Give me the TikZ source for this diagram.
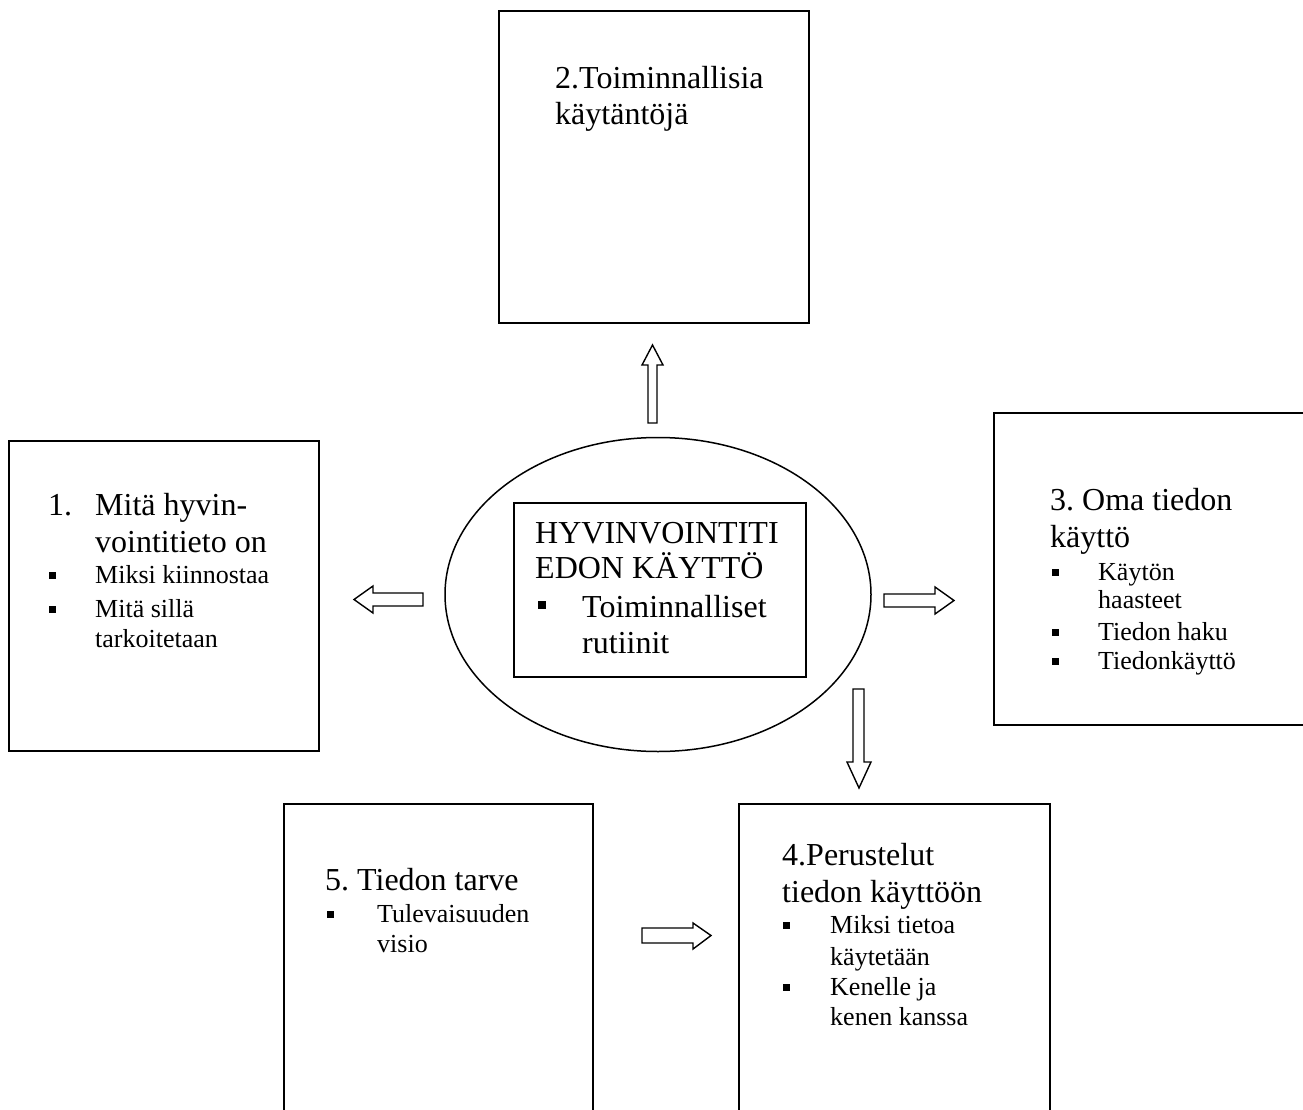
\documentclass[tikz,border=0pt]{standalone}
\usepackage{fontspec}
\setmainfont{Liberation Serif}
\usetikzlibrary{shapes.geometric}
\tikzset{
  box/.style={draw, line width=2pt, inner sep=0, anchor=north west},
  big/.style={font=\fontsize{32}{37}\selectfont\frenchspacing, anchor=base west, inner sep=0},
  small/.style={font=\fontsize{26}{30}\selectfont\frenchspacing, anchor=base west, inner sep=0},
  bul/.style={fill, inner sep=0, minimum size=7.5pt},
  bigbul/.style={fill, inner sep=0, minimum size=8pt},
  blk/.style={draw, line width=1.4pt, fill=white, line join=miter},
}
\begin{document}
\frenchspacing
\begin{tikzpicture}[x=1pt, y=-1pt]
\useasboundingbox (0,0) rectangle (1303,1110);
\clip (0,0) rectangle (1303,1110);
\fill[white] (0,0) rectangle (1303,1110);

% boxes
\node[box, minimum width=310pt, minimum height=312pt] (b2) at (498,10) {};
\node[box, minimum width=310pt, minimum height=310pt] (b1) at (8,440) {};
\node[box, minimum width=340pt, minimum height=312pt] (b3) at (993,412) {};
\node[box, minimum width=309pt, minimum height=330pt] (b5) at (283,803) {};
\node[box, minimum width=311pt, minimum height=330pt] (b4) at (738,803) {};

% centre
\node[draw, ellipse, line width=1.5pt, minimum width=426pt, minimum height=314pt, inner sep=0] (ell) at (658,594.5) {};
\node[draw, line width=1.5pt, minimum width=292pt, minimum height=174pt, inner sep=0] (core) at (660,590) {};

% block arrows
\draw[blk] (648,423) -- (648,365) -- (642,365) -- (652.5,345) -- (663,365) -- (657,365) -- (657,423) -- cycle;
\draw[blk] (423,593) -- (373,593) -- (373,586) -- (354,599.5) -- (373,613) -- (373,606) -- (423,606) -- cycle;
\draw[blk] (884,594) -- (935,594) -- (935,587) -- (954,600.5) -- (935,614) -- (935,607) -- (884,607) -- cycle;
\draw[blk] (853,689) -- (853,762) -- (847,762) -- (859,788) -- (871,762) -- (864,762) -- (864,689) -- cycle;
\draw[blk] (642,928) -- (693,928) -- (693,923) -- (711,935.5) -- (693,949) -- (693,943) -- (642,943) -- cycle;

% box 2 text
\node[big] (t2a) at (555,89) {2.Toiminnallisia};
\node[big] (t2b) at (555,125) {käytäntöjä};

% box 1 text
\node[big] (t1n) at (48,515) {1.};
\node[big] (t1a) at (95,515) {Mitä hyvin-};
\node[big] (t1b) at (95,552) {vointitieto on};
\node[bul] (t1u1) at (52.5,575.5) {};
\node[small] (t1c) at (95,583) {Miksi kiinnostaa};
\node[bul] (t1u2) at (52.5,609.5) {};
\node[small] (t1d) at (95,617) {Mitä sillä};
\node[small] (t1e) at (95,647) {tarkoitetaan};

% centre text
\node[big] (tca) at (535,543) {HYVINVOINTITI};
\node[big] (tcb) at (535,578) {EDON KÄYTTÖ};
\node[bigbul] (tcu) at (542,605) {};
\node[big] (tcc) at (582,617) {Toiminnalliset};
\node[big] (tcd) at (582,653) {rutiinit};

% box 3 text
\node[big] (t3a) at (1050,510) {3. Oma tiedon};
\node[big] (t3b) at (1050,547) {käyttö};
\node[bul] (t3u1) at (1055.5,572.5) {};
\node[small] (t3c) at (1098,580) {Käytön};
\node[small] (t3d) at (1098,608) {haasteet};
\node[bul] (t3u2) at (1055.5,632.5) {};
\node[small] (t3e) at (1098,640) {Tiedon haku};
\node[bul] (t3u3) at (1055.5,661.5) {};
\node[small] (t3f) at (1098,669) {Tiedonkäyttö};

% box 5 text
\node[big] (t5a) at (325,890) {5. Tiedon tarve};
\node[bul] (t5u1) at (330.5,914.5) {};
\node[small] (t5b) at (377,922) {Tulevaisuuden};
\node[small] (t5c) at (377,952) {visio};

% box 4 text
\node[big] (t4a) at (782,865) {4.Perustelut};
\node[big] (t4b) at (782,902) {tiedon käyttöön};
\node[bul] (t4u1) at (786.5,925.5) {};
\node[small] (t4c) at (830,933) {Miksi tietoa};
\node[small] (t4d) at (830,965) {käytetään};
\node[bul] (t4u2) at (786.5,987.5) {};
\node[small] (t4e) at (830,995) {Kenelle ja};
\node[small] (t4f) at (830,1025) {kenen kanssa};
\end{tikzpicture}
\end{document}
